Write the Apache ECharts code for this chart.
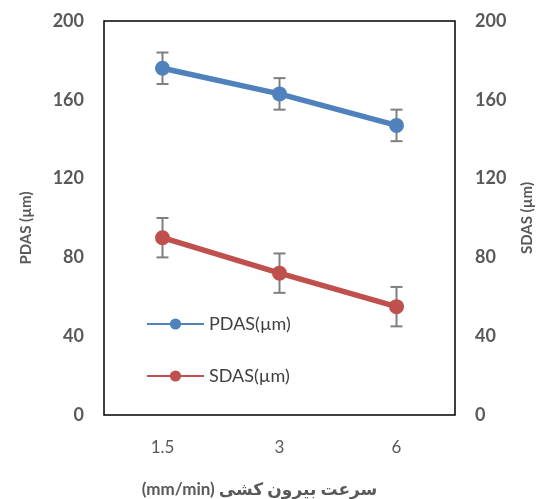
<!DOCTYPE html>
<html><head><meta charset="utf-8">
<script src="https://cdn.jsdelivr.net/npm/echarts@6/dist/echarts.min.js"></script>
<style>html,body{margin:0;padding:0;background:#fff}#c{width:545px;height:499px}</style>
</head><body><div id="c"></div>
<script>
const categories = ['1.5', '3', '6'];
const pdas = [176, 163, 147];
const pdasErr = [8, 8, 8];
const sdas = [90, 72, 55];
const sdasErr = [10, 10, 10];
const yTicks = [0, 40, 80, 120, 160, 200];

const FONT = 'Lato, "DejaVu Sans", sans-serif';
const chart = echarts.init(document.getElementById('c'));

function errSeries(vals, errs, yIdx) {
  return {
    type: 'custom', yAxisIndex: yIdx, silent: true, z: 1,
    data: vals.map((v, i) => [i, v - errs[i], v + errs[i]]),
    renderItem: function (params, api) {
      const lo = api.coord([api.value(0), api.value(1)]);
      const hi = api.coord([api.value(0), api.value(2)]);
      const w = 6;
      const st = { stroke: '#7f7f7f', lineWidth: 2 };
      return { type: 'group', children: [
        { type: 'line', shape: { x1: lo[0], y1: lo[1], x2: hi[0], y2: hi[1] }, style: st },
        { type: 'line', shape: { x1: lo[0] - w, y1: lo[1], x2: lo[0] + w, y2: lo[1] }, style: st },
        { type: 'line', shape: { x1: hi[0] - w, y1: hi[1], x2: hi[0] + w, y2: hi[1] }, style: st }
      ]};
    }
  };
}

const axisLbl = { color: '#595959', fontWeight: 'bold', fontSize: 18, fontFamily: FONT };
const nameStyle = { color: '#595959', fontWeight: 'bold', fontSize: 15, fontFamily: FONT };

chart.setOption({
  animation: false,
  grid: { left: 104, right: 90, top: 21, bottom: 84, show: true, borderColor: '#000', borderWidth: 1.5,
          containLabel: false, outerBoundsMode: 'none' },
  legend: {
    orient: 'vertical', left: 141, top: 310, itemWidth: 57, itemHeight: 14, itemGap: 34,
    data: ['PDAS(µm)', 'SDAS(µm)'],
    textStyle: { color: '#404040', fontSize: 18, fontFamily: FONT }
  },
  xAxis: {
    type: 'category', data: categories, boundaryGap: true,
    axisLine: { show: false }, axisTick: { show: false },
    axisLabel: { color: '#595959', fontSize: 17, fontFamily: FONT, margin: 24 },
    name: '(mm/min) سرعت بیرون کشی', nameLocation: 'middle', nameGap: 66,
    nameTextStyle: Object.assign({}, nameStyle, { fontSize: 17, padding: [0, 40, 0, 0] })
  },
  yAxis: [
    { type: 'value', min: 0, max: 200, interval: 40, position: 'left',
      axisLine: { show: false }, axisTick: { show: false }, splitLine: { show: false },
      axisLabel: Object.assign({ margin: 20 }, axisLbl),
      name: 'PDAS (µm)', nameLocation: 'middle', nameGap: 70,
      nameTextStyle: Object.assign({}, nameStyle, { padding: [0, 20, 0, 0] }) },
    { type: 'value', min: 0, max: 200, interval: 40, position: 'right',
      axisLine: { show: false }, axisTick: { show: false }, splitLine: { show: false },
      axisLabel: Object.assign({ margin: 20 }, axisLbl),
      name: 'SDAS (µm)', nameLocation: 'middle', nameGap: 65, nameRotate: 90, nameTextStyle: nameStyle }
  ],
  series: [
    errSeries(pdas, pdasErr, 0),
    errSeries(sdas, sdasErr, 1),
    { name: 'PDAS(µm)', type: 'line', yAxisIndex: 0, data: pdas, z: 3,
      symbol: 'circle', symbolSize: 15, color: '#4f81bd',
      lineStyle: { width: 5.5, color: '#4f81bd' }, itemStyle: { color: '#4f81bd' } },
    { name: 'SDAS(µm)', type: 'line', yAxisIndex: 1, data: sdas, z: 3,
      symbol: 'circle', symbolSize: 15, color: '#c0504d',
      lineStyle: { width: 5.5, color: '#c0504d' }, itemStyle: { color: '#c0504d' } }
  ]
});
</script></body></html>
